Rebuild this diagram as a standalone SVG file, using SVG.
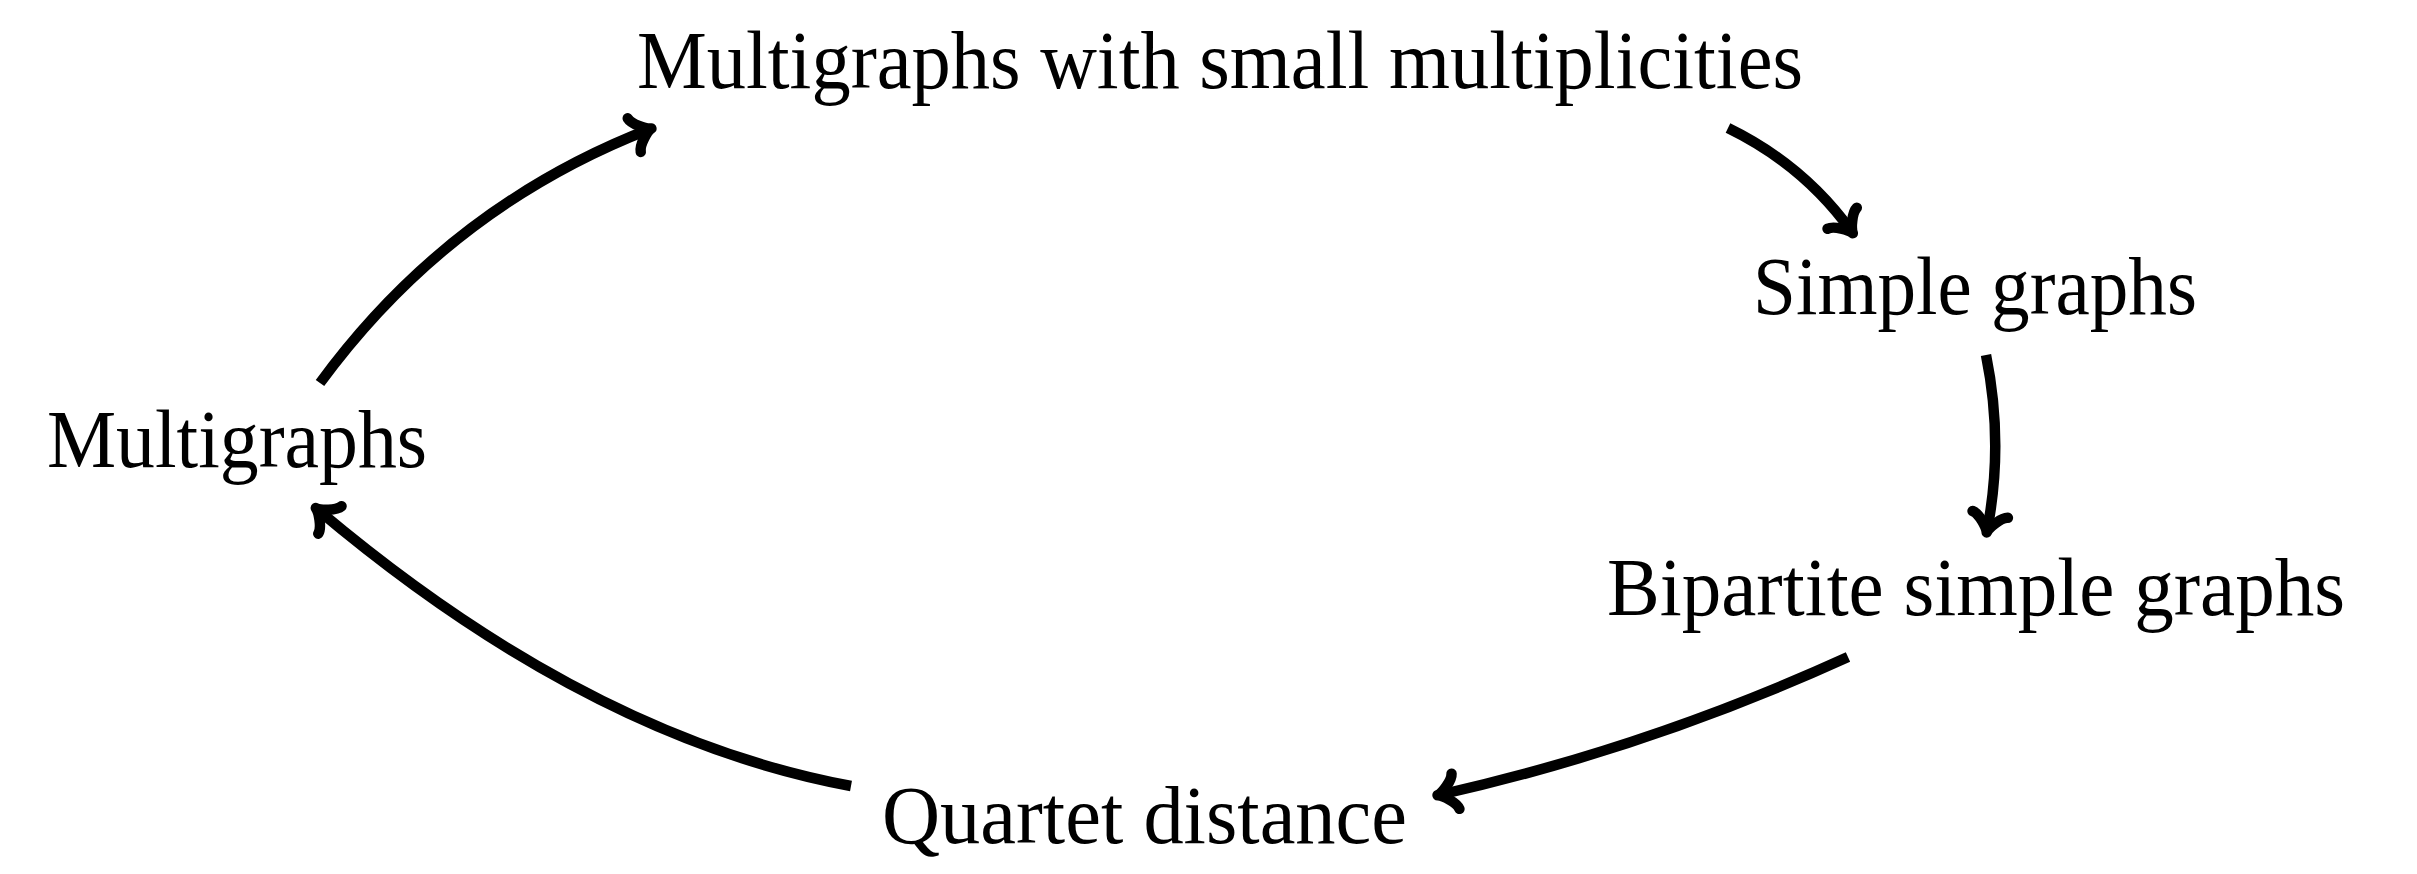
<svg xmlns="http://www.w3.org/2000/svg" width="2417" height="874" viewBox="0 0 2417 874">
  <style>
    .lbl { font-family: "Liberation Serif", "Times New Roman", serif; font-size: 82px; fill: #000; }
    .edge { fill: none; stroke: #000; stroke-width: 10.5; stroke-linecap: butt; marker-end: url(#to); }
  </style>
  <defs>
    <marker id="to" markerUnits="userSpaceOnUse" orient="auto" refX="0" refY="0" markerWidth="60" markerHeight="60" viewBox="-30 -30 60 60" overflow="visible">
      <path d="M -16.9,-18 C -15.8,-11.2 -3.4,-1.1 1.5,0 C -3.4,1.1 -15.8,11.2 -16.9,18" fill="none" stroke="#000" stroke-width="10.5" stroke-linecap="round" stroke-linejoin="round"/>
    </marker>
  </defs>
  <rect width="2417" height="874" fill="#fff"/>
  <g id="connectors">
    <path class="edge" d="M 320,383 Q 449,207 650,129"/>
    <path class="edge" d="M 1728,128 Q 1804,165 1852,232"/>
    <path class="edge" d="M 1986,355 Q 2004,444 1987,531"/>
    <path class="edge" d="M 1848,657 Q 1648,748 1439,795"/>
    <path class="edge" d="M 851,786 Q 587,737 317,509"/>
  </g>
  <g id="node-multi-small"><text class="lbl" x="637" y="88" textLength="1166" lengthAdjust="spacingAndGlyphs">Multigraphs with small multiplicities</text></g>
  <g id="node-simple"><text class="lbl" x="1753" y="314" textLength="444" lengthAdjust="spacingAndGlyphs">Simple graphs</text></g>
  <g id="node-bipartite"><text class="lbl" x="1607" y="615" textLength="738" lengthAdjust="spacingAndGlyphs">Bipartite simple graphs</text></g>
  <g id="node-quartet"><text class="lbl" x="882" y="843" textLength="525" lengthAdjust="spacingAndGlyphs">Quartet distance</text></g>
  <g id="node-multigraphs"><text class="lbl" x="47" y="467" textLength="380" lengthAdjust="spacingAndGlyphs">Multigraphs</text></g>
</svg>
